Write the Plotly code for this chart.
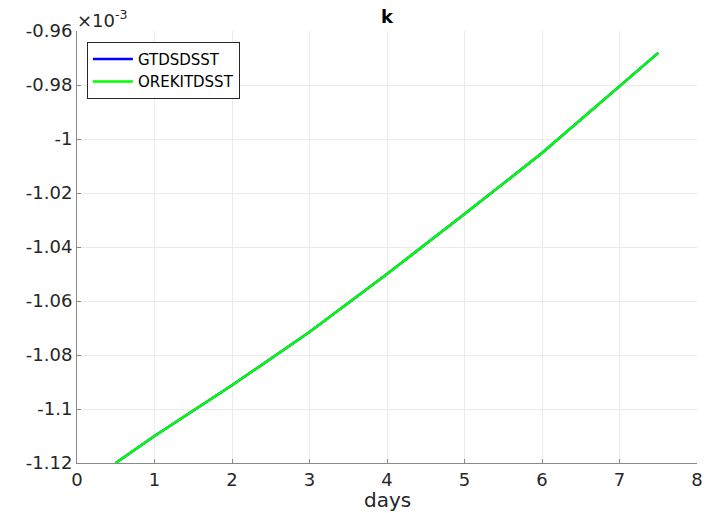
import plotly.graph_objects as go

# data (k in units of 1e-3)
days = [0.5, 1, 2, 3, 4, 5, 6, 7, 7.5]
k_gtds = [-1.1200, -1.1100, -1.0912, -1.0715, -1.0500, -1.0278, -1.0052, -0.9806, -0.9681]
k_orekit = [-1.1200, -1.1100, -1.0912, -1.0715, -1.0500, -1.0278, -1.0052, -0.9806, -0.9681]

x_ticks = [0, 1, 2, 3, 4, 5, 6, 7, 8]
x_ticktext = ["0", "1", "2", "3", "4", "5", "6", "7", "8"]
y_ticks = [-1.12, -1.10, -1.08, -1.06, -1.04, -1.02, -1.00, -0.98, -0.96]
y_ticktext = ["-1.12", "-1.1", "-1.08", "-1.06", "-1.04", "-1.02", "-1", "-0.98", "-0.96"]

FONT = "DejaVu Sans"
TXT = "#262626"

fig = go.Figure()
fig.add_trace(go.Scatter(x=days, y=k_gtds, mode="lines", name="GTDSDSST",
                         line=dict(color="#0000ff", width=2.5)))
fig.add_trace(go.Scatter(x=days, y=k_orekit, mode="lines", name="OREKITDSST",
                         line=dict(color="#00ff00", width=2.5)))

axis_common = dict(showgrid=True, gridcolor="#ebebeb", gridwidth=1,
                   showline=True, linecolor="#8a8a8a", linewidth=1,
                   ticks="inside", ticklen=4, tickcolor="#8a8a8a",
                   zeroline=False, automargin=False, ticklabeloverflow="allow",
                   tickfont=dict(family=FONT, size=18, color=TXT))

fig.update_xaxes(range=[0, 8], tickvals=x_ticks, ticktext=x_ticktext, **axis_common)
fig.update_yaxes(range=[-1.12, -0.96], tickvals=y_ticks, ticktext=y_ticktext, **axis_common)

fig.update_layout(
    width=706, height=513,
    margin=dict(l=77, r=9, t=31, b=50),
    paper_bgcolor="white", plot_bgcolor="white",
    showlegend=True,
    legend=dict(x=0.016, y=0.975, xanchor="left", yanchor="top",
                bgcolor="white", bordercolor="#262626", borderwidth=1,
                font=dict(family=FONT, size=15, color="#000000"),
                tracegroupgap=0, itemwidth=40),
    title=dict(text="<b>k</b>", x=0.5, xref="paper", xanchor="center",
               y=1.0, yref="paper", yanchor="bottom", pad=dict(b=8),
               font=dict(family=FONT, size=18, color="#000000")),
    annotations=[
        dict(text="×10<sup>-3</sup>", xref="paper", yref="paper",
             x=0.0, y=1.0, xanchor="left", yanchor="bottom",
             showarrow=False, yshift=-2, xshift=-2,
             font=dict(family=FONT, size=18, color=TXT)),
        dict(text="days", xref="paper", yref="paper",
             x=0.5, y=0.0, xanchor="center", yanchor="top",
             showarrow=False, yshift=-23,
             font=dict(family=FONT, size=20, color=TXT)),
    ],
)

# remove the page's default body margin so the figure fills the window exactly
fig.write_html("out.html", config={"displayModeBar": False},
               post_script="document.body.style.margin='0';document.body.style.overflow='hidden';")
